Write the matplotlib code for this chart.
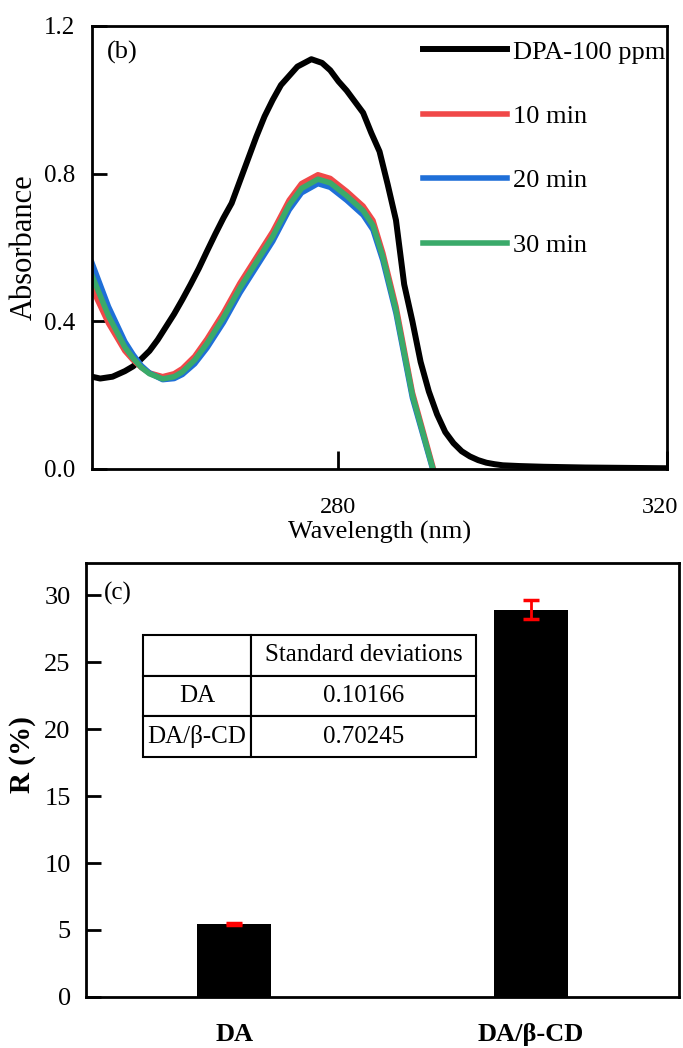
import numpy as np
import matplotlib
matplotlib.use('Agg')
import matplotlib.pyplot as plt
from matplotlib.transforms import ScaledTranslation

plt.rcParams['font.family'] = ['Liberation Serif', 'DejaVu Serif']
plt.rcParams['mathtext.fontset'] = 'stix'

# ---- panel (b): UV-vis spectra ----
wl_dpa = [250, 251, 252.5, 254, 255, 256, 257, 258, 259, 260, 261, 262, 263, 264, 265,
          266, 267, 268, 269, 270, 271, 272, 273, 273.8, 275, 276.7, 278, 279, 280, 281,
          282, 283, 284, 285, 286, 287, 288, 289, 290, 291, 292, 293, 294, 295, 296, 297,
          298, 299, 300, 302, 305, 310, 315, 320]
abs_dpa = [0.25, 0.245, 0.25, 0.265, 0.278, 0.298, 0.32, 0.35, 0.385, 0.42, 0.459, 0.50,
           0.543, 0.59, 0.636, 0.68, 0.72, 0.78, 0.84, 0.90, 0.955, 1.0, 1.04, 1.06, 1.09,
           1.11, 1.10, 1.08, 1.05, 1.025, 0.995, 0.965, 0.91, 0.86, 0.77, 0.674, 0.50,
           0.40, 0.29, 0.21, 0.148, 0.10, 0.07, 0.048, 0.034, 0.024, 0.017, 0.013, 0.010,
           0.008, 0.006, 0.004, 0.003, 0.002]

wl_t = [250, 252, 254, 255, 256, 257, 258.6, 260, 261, 262.5, 264, 266, 267, 268, 270,
        272, 274, 275.5, 277.5, 279, 281, 283, 284.2, 285.4, 287, 289, 291.5, 292.5]
abs_10 = [0.49, 0.395, 0.32, 0.295, 0.275, 0.26, 0.25, 0.258, 0.272, 0.305, 0.352, 0.423,
          0.463, 0.503, 0.573, 0.643, 0.728, 0.773, 0.797, 0.787, 0.752, 0.712, 0.673,
          0.585, 0.44, 0.207, 0.005, -0.075]
abs_20 = [0.558, 0.44, 0.345, 0.31, 0.28, 0.26, 0.242, 0.245, 0.256, 0.285, 0.328, 0.397,
          0.437, 0.477, 0.547, 0.617, 0.702, 0.748, 0.773, 0.763, 0.728, 0.688, 0.648,
          0.565, 0.422, 0.193, -0.003, -0.085]
abs_30 = [0.524, 0.415, 0.33, 0.30, 0.275, 0.258, 0.244, 0.25, 0.263, 0.295, 0.34, 0.41,
          0.45, 0.49, 0.56, 0.63, 0.715, 0.76, 0.785, 0.775, 0.74, 0.70, 0.66, 0.575,
          0.43, 0.20, 0.0, -0.08]

# ---- panel (c): removal ----
samples = ['DA', 'DA/β-CD']
removal = [5.45, 28.9]
std_dev = [0.10166, 0.70245]
table_rows = [['', 'Standard deviations'],
              ['DA', '0.10166'],
              ['DA/β-CD', '0.70245']]

fig = plt.figure(figsize=(6.83, 10.48), dpi=100)

ax1 = fig.add_axes([0.1347, 0.5525, 0.842, 0.4227])
ax1.plot(wl_dpa, abs_dpa, color='black', lw=4.3, label='DPA-100 ppm')
ax1.plot(wl_t, abs_10, color='#f04848', lw=4, label='10 min')
ax1.plot(wl_t, abs_20, color='#1f6fd8', lw=4, label='20 min')
ax1.plot(wl_t, abs_30, color='#3aaa6a', lw=4, label='30 min')
ax1.set_xlim(250, 320)
ax1.set_ylim(0, 1.2)
ax1.set_xticks([280, 320])
ax1.set_yticks([0, 0.4, 0.8, 1.2])
ax1.set_yticklabels(['0.0', '0.4', '0.8', '1.2'])
ax1.tick_params(axis='y', direction='in', length=11, width=2, labelsize=18, pad=12)
ax1.tick_params(axis='x', direction='in', length=13, width=2, labelsize=17.5, pad=20)
for s in ax1.spines.values():
    s.set_linewidth(2)
ax1.set_xlabel('Wavelength (nm)', fontsize=19, labelpad=2)
ax1.set_ylabel('Absorbance', fontsize=22, labelpad=4)
ax1.text(0.025, 0.94, '(b)', transform=ax1.transAxes, fontsize=19, va='center')
ax1.legend(loc='upper left', bbox_to_anchor=(0.575, 0.968), frameon=False, fontsize=19,
           handlelength=3.2, handletextpad=0.22, labelspacing=1.55, borderpad=0,
           borderaxespad=0)
# the last label sits on the right edge, nudge it inwards a little
lab320 = ax1.get_xticklabels()[-1]
lab320.set_transform(lab320.get_transform() + ScaledTranslation(-5 / 72, 0, fig.dpi_scale_trans))

ax2 = fig.add_axes([0.1259, 0.0487, 0.8682, 0.4141])
xpos = np.arange(len(samples))
ax2.bar(xpos, removal, width=0.25, color='black')
ax2.errorbar(xpos, removal, yerr=std_dev, fmt='none', ecolor='red', elinewidth=2,
             capsize=6, capthick=2.5)
ax2.set_xlim(-0.5, 1.5)
ax2.set_ylim(0, 32.4)
ax2.set_yticks(range(0, 31, 5))
ax2.set_xticks(xpos)
ax2.set_xticklabels(samples, fontweight='bold', fontsize=19)
ax2.tick_params(axis='x', length=0, pad=19)
ax2.tick_params(axis='y', direction='in', length=11, width=2, labelsize=19, pad=11)
for s in ax2.spines.values():
    s.set_linewidth(2)
ax2.set_ylabel('R (%)', fontsize=21, fontweight='bold')
ax2.yaxis.set_label_coords(-0.084, 0.558)
ax2.text(0.03, 0.93, '(c)', transform=ax2.transAxes, fontsize=18, va='center')

tbl = ax2.table(cellText=table_rows, colWidths=[0.324 * 0.5616, 0.676 * 0.5616],
                cellLoc='center', bbox=[0.096, 0.553, 0.5616, 0.281])
tbl.auto_set_font_size(False)
tbl.set_fontsize(18)
for cell in tbl.get_celld().values():
    cell.set_linewidth(1.5)

fig.savefig('out.png', dpi=100)
